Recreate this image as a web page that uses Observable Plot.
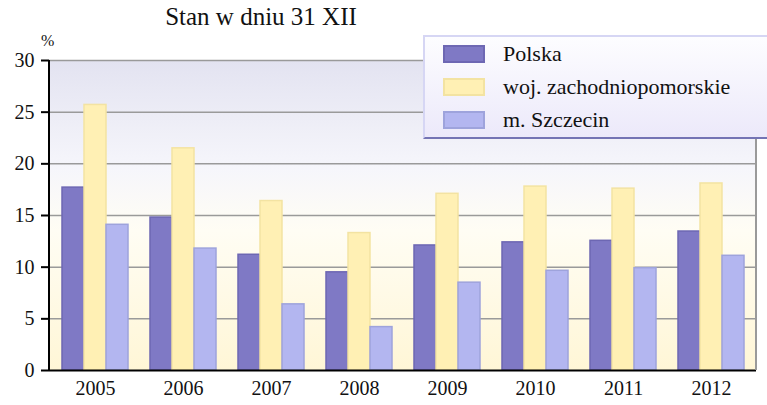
<!DOCTYPE html>
<html><head><meta charset="utf-8">
<script src="https://cdn.jsdelivr.net/npm/d3@7"></script>
<script src="https://cdn.jsdelivr.net/npm/@observablehq/plot@0.6"></script>
<style>
body{margin:0;background:#fff;font-family:"Liberation Serif","Times New Roman",Times,"Noto Serif","DejaVu Serif",serif;}
#wrap{position:relative;width:767px;height:405px;overflow:hidden;}
#title{position:absolute;left:0;width:522px;top:3px;text-align:center;font-size:25px;color:#111;}
#pct{position:absolute;left:41px;top:32px;font-size:16px;color:#111;}
#legend{position:absolute;left:423px;top:35px;width:360px;height:104px;box-sizing:border-box;
 background:linear-gradient(to bottom,#fdfdff,#ece9fa);border-top:2px solid #d6d6f4;border-left:2px solid #d6d6f4;border-bottom:2px solid #7474b4;}
.item{position:absolute;left:18px;font-size:22px;color:#111;white-space:nowrap;}
.sw{display:inline-block;width:42px;height:18px;vertical-align:middle;margin-right:18px;box-sizing:border-box;border:2px solid;position:relative;top:-2px;}
</style></head>
<body><div id="wrap"><div id="chart"></div>
<div id="title">Stan w dniu 31 XII</div>
<div id="pct">%</div>
<div id="legend"></div></div>
<script>
const years = ["2005","2006","2007","2008","2009","2010","2011","2012"];
const seriesNames = ["Polska","woj. zachodniopomorskie","m. Szczecin"];
const polska = [17.7,14.8,11.2,9.5,12.1,12.4,12.55,13.45];
const zachodniopomorskie = [25.7,21.5,16.4,13.3,17.1,17.8,17.6,18.1];
const szczecin = [14.1,11.8,6.4,4.2,8.5,9.65,9.9,11.1];
const yTicks = [0,5,10,15,20,25,30];

const fills = ["#7f79c5","#fff0b4","#b3b6f0"];
const strokes = ["#6d67b3","#f3e3a2","#9ea3dc"];
const seriesValues = [polska, zachodniopomorskie, szczecin];
const tables = seriesValues.map(vals => years.map((y,i)=>({year:y, value:vals[i]})));

const bw = 22; // each bar's width within the group
const insets = [[0,2*bw],[bw,bw],[2*bw,0]];

const plot = Plot.plot({
  width: 767, height: 405,
  marginLeft: 49, marginRight: 11, marginTop: 60, marginBottom: 35,
  style: {fontFamily: "'Liberation Serif','Times New Roman',Times,'Noto Serif','DejaVu Serif',serif", fontSize: "20px", color: "#111", background: "transparent"},
  x: {domain: years, paddingInner: 0.25, paddingOuter: 0.125, label: null, tickSize: 0, tickPadding: 10},
  y: {domain: [0,30], ticks: yTicks, label: null, tickSize: 8, tickPadding: 7},
  marks: [
    Plot.frame({fill: "url(#bggrad)", stroke: null}),
    Plot.ruleY(yTicks.filter(d=>d>0), {stroke: "#9a9a9a", strokeWidth: 1.5}),
    ...tables.map((t,k)=>Plot.barY(t, {x: "year", y: "value", fill: fills[k], stroke: strokes[k], strokeWidth: 1.5,
        insetLeft: insets[k][0], insetRight: insets[k][1]})),
    Plot.ruleY([0], {stroke: "#000", strokeWidth: 2}),
    Plot.axisY({ticks: yTicks, tickSize: 8, tickPadding: 7, stroke: "#000", strokeWidth: 2}),
    Plot.axisX({tickSize: 0, tickPadding: 10})
  ]
});
const svg = d3.select(plot);
const defs = svg.insert("defs", ":first-child");
const g = defs.append("linearGradient").attr("id","bggrad").attr("x1",0).attr("y1",0).attr("x2",0).attr("y2",1);
[["0%","#e3e3f1"],["35%","#f6f6fb"],["55%","#fffdf4"],["100%","#fff6d6"]].forEach(([o,c])=>g.append("stop").attr("offset",o).attr("stop-color",c));
// frame edges taken from the library's own scales
const xr = plot.scale("x").range, yr = plot.scale("y").range;
const edges = svg.append("g");
edges.append("line").attr("x1",xr[1]).attr("x2",xr[1]).attr("y1",yr[0]).attr("y2",yr[1]).attr("stroke","#9a9a9a").attr("stroke-width",2);
edges.append("line").attr("x1",xr[0]).attr("x2",xr[0]).attr("y1",yr[0]+1).attr("y2",yr[1]).attr("stroke","#000").attr("stroke-width",2);
document.getElementById("chart").appendChild(plot);

const lg = document.getElementById("legend");
seriesNames.forEach((n,k)=>{
  const d = document.createElement("div");
  d.className = "item";
  d.style.top = (4 + k*33) + "px";
  const s = document.createElement("span");
  s.className = "sw"; s.style.background = fills[k]; s.style.borderColor = strokes[k];
  d.appendChild(s);
  d.appendChild(document.createTextNode(n));
  lg.appendChild(d);
});
</script></body></html>
